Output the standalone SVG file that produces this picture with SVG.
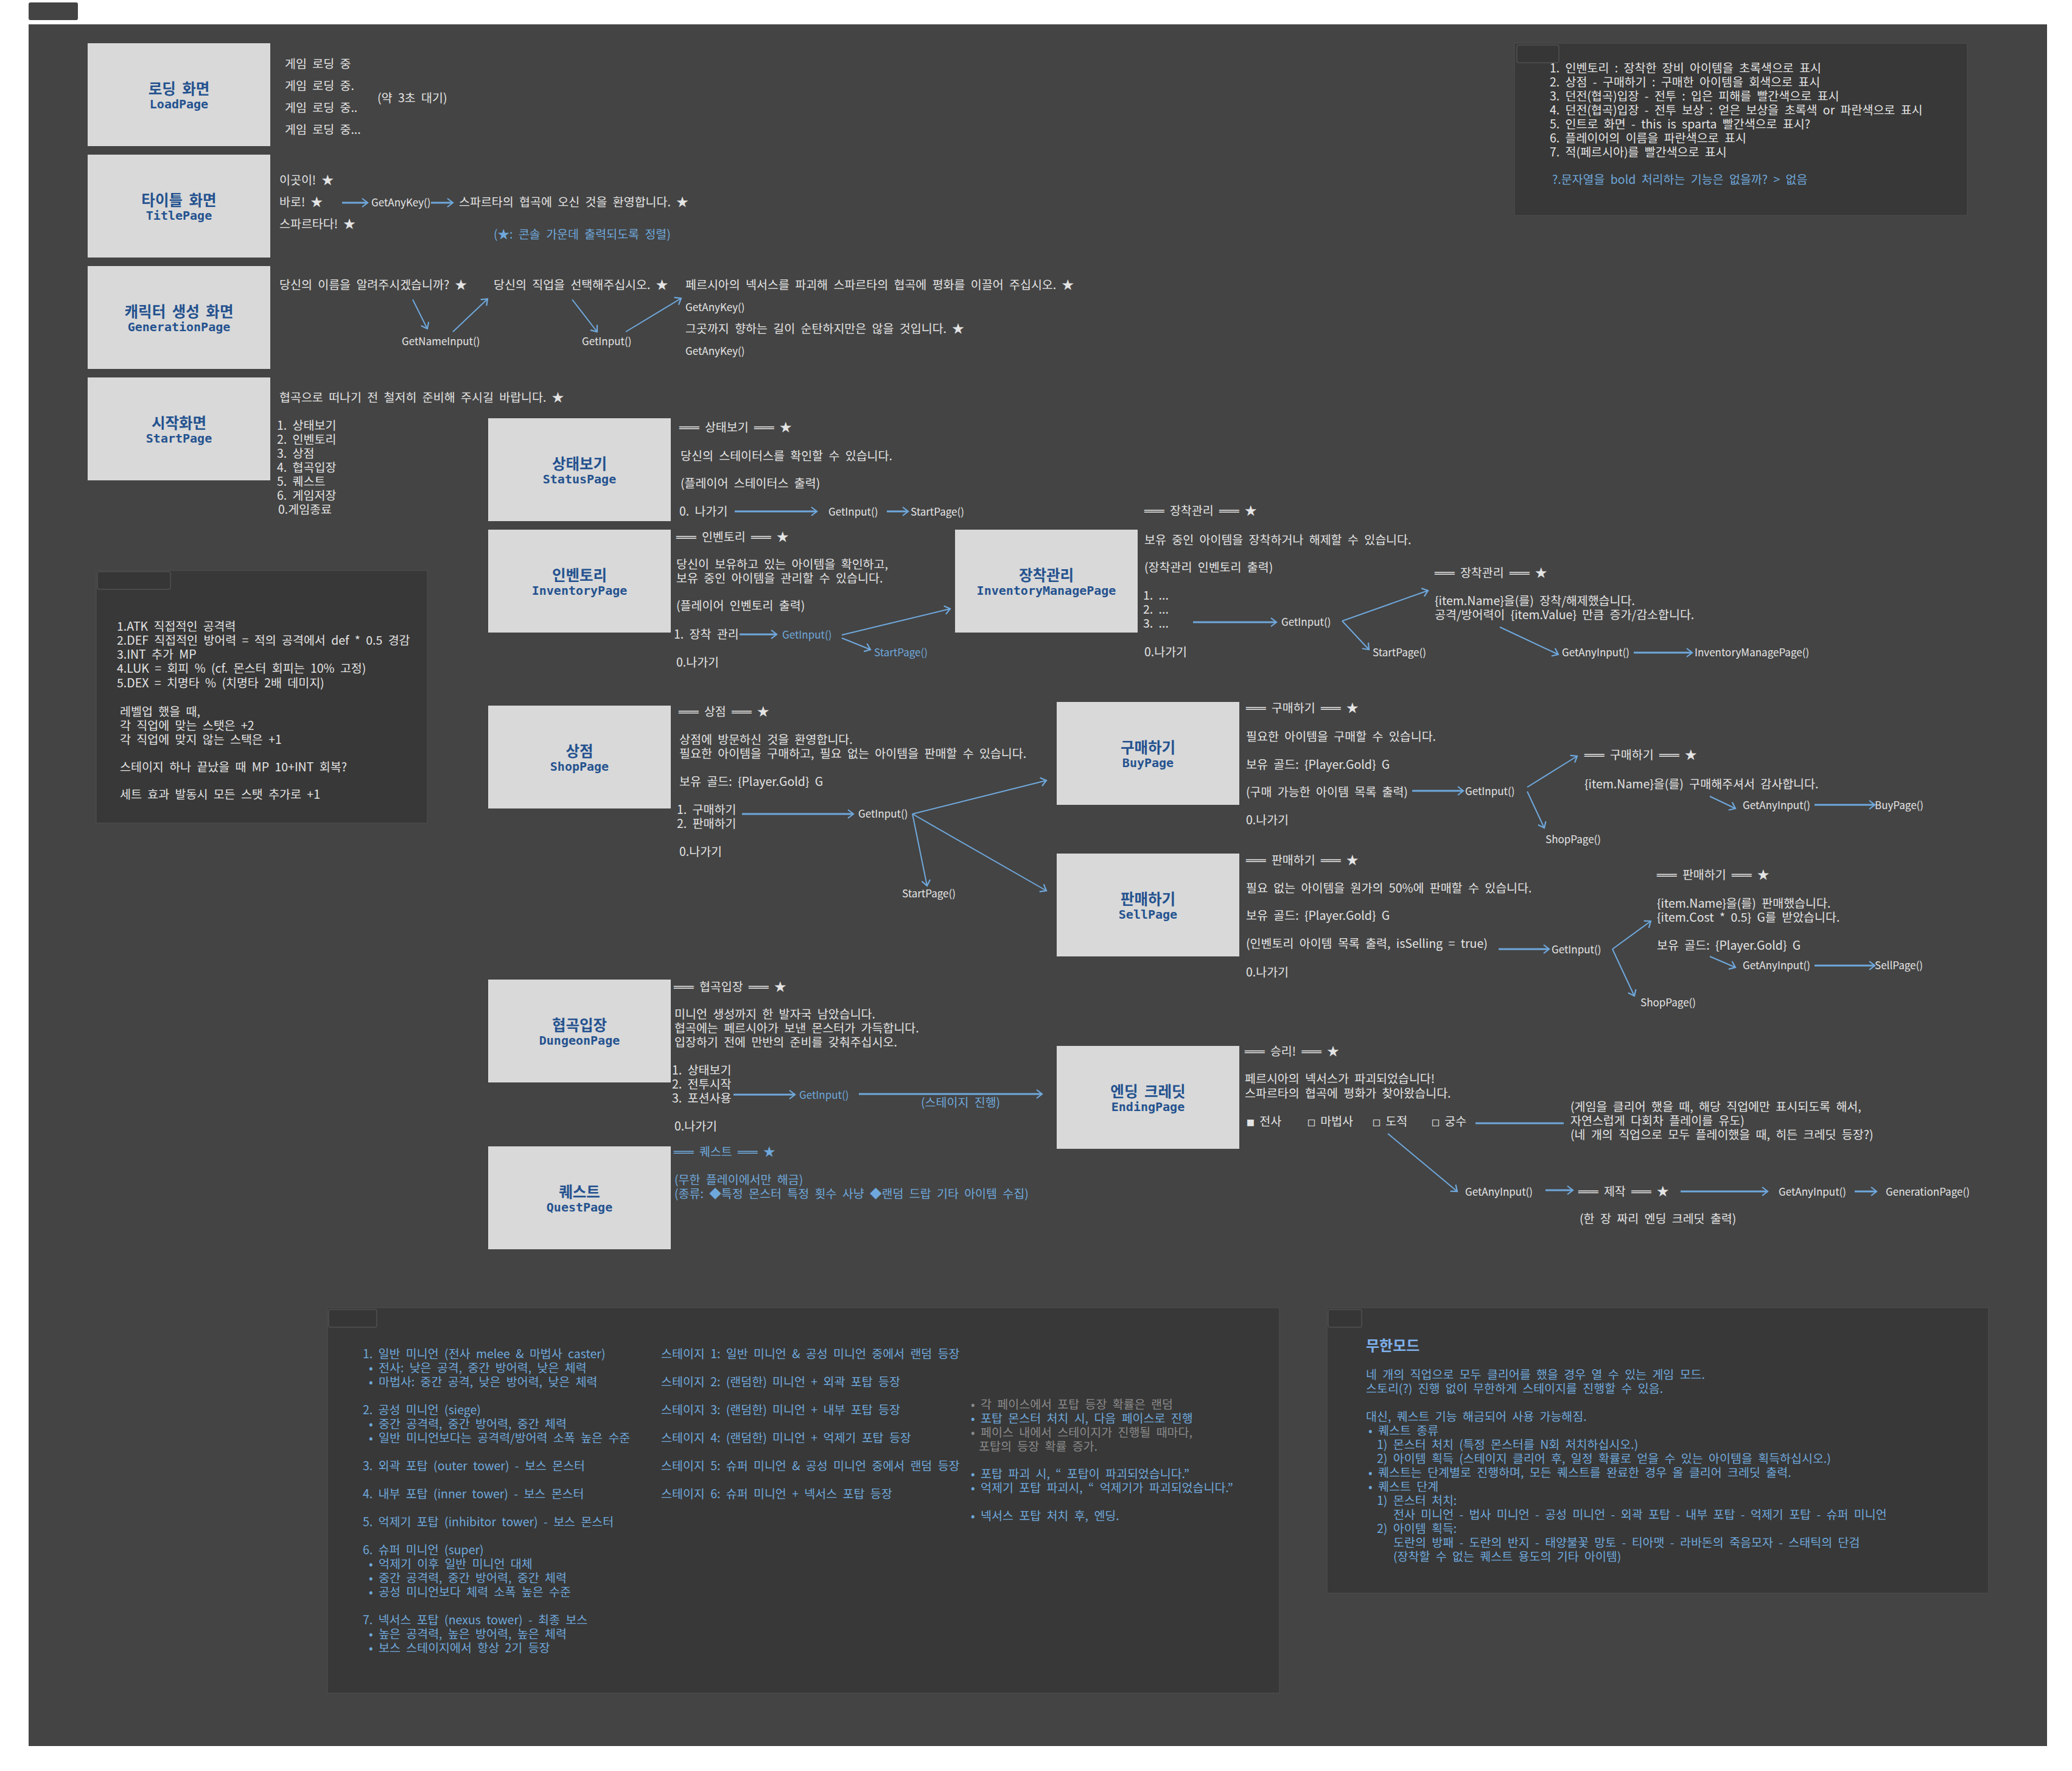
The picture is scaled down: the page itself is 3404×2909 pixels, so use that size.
<svg xmlns="http://www.w3.org/2000/svg" width="3404" height="2909" viewBox="0 0 3404 2909">
<defs>
<style>
.bg{fill:#444444}
.node{fill:#d9d9d9}
.note{fill:#383838;stroke:#4a4a4a;stroke-width:1.5}
.tab{fill:#363636;stroke:#505050;stroke-width:1.5}
.nt{font-family:"Noto Sans CJK KR","Noto Sans",sans-serif;font-weight:bold;font-size:24.5px;fill:#24528f;text-anchor:middle;word-spacing:5px}
.ne{font-family:"DejaVu Sans Mono","Liberation Mono",monospace;font-weight:bold;font-size:20px;fill:#24528f;text-anchor:middle}
text.t{font-family:"Liberation Sans Narrow","Noto Sans CJK KR","Noto Sans",sans-serif;font-size:19.5px;fill:#e4e4e4;word-spacing:5px}
text.c{font-size:17px}
text.b{fill:#6fa8dc}
text.g{fill:#8a8a8a}
.m{font-family:"DejaVu Sans Mono",monospace;font-size:18px}
.h{font-family:"Noto Sans CJK KR",sans-serif;font-weight:bold;font-size:24px;fill:#7fb0ea}
.a{stroke:#6fa8dc;stroke-width:3;fill:none;marker-end:url(#ah)}
.a2{stroke:#6fa8dc;stroke-width:2;fill:none;marker-end:url(#ah)}
.ln{stroke:#6fa8dc;stroke-width:3;fill:none}
</style>
<marker id="ah" viewBox="0 0 12 16" refX="10" refY="8" markerWidth="12" markerHeight="16" markerUnits="userSpaceOnUse" orient="auto">
<path d="M1,1 L10,8 L1,15" fill="none" stroke="#6fa8dc" stroke-width="2.2"/>
</marker>
</defs>

<rect x="0" y="0" width="3404" height="2909" fill="#ffffff"/>
<rect x="47" y="4" width="81" height="29" rx="3" class="bg"/>
<rect x="47" y="40" width="3316" height="2828" class="bg"/>

<!-- note boxes -->
<g id="note-colors">
<rect x="2488" y="71" width="744" height="283" class="note"/>
<rect x="2492" y="74" width="69" height="29" rx="3" class="tab"/>
<text class="t" x="2546" y="119">1. 인벤토리 : 장착한 장비 아이템을 초록색으로 표시</text>
<text class="t" x="2546" y="142">2. 상점 - 구매하기 : 구매한 아이템을 회색으로 표시</text>
<text class="t" x="2546" y="165">3. 던전(협곡)입장 - 전투 : 입은 피해를 빨간색으로 표시</text>
<text class="t" x="2546" y="188">4. 던전(협곡)입장 - 전투 보상 : 얻은 보상을 초록색 or 파란색으로 표시</text>
<text class="t" x="2546" y="211">5. 인트로 화면 - this is sparta 빨간색으로 표시?</text>
<text class="t" x="2546" y="234">6. 플레이어의 이름을 파란색으로 표시</text>
<text class="t" x="2546" y="257">7. 적(페르시아)를 빨간색으로 표시</text>
<text class="t b" x="2550" y="302">?.문자열을 bold 처리하는 기능은 없을까? &gt; 없음</text>
</g>

<g id="note-stats">
<rect x="158" y="937" width="544" height="415" class="note"/>
<rect x="160" y="939" width="120" height="29" rx="3" class="tab"/>
<text class="t" x="192" y="1036">1.ATK 직접적인 공격력</text>
<text class="t" x="192" y="1059">2.DEF 직접적인 방어력 = 적의 공격에서 def * 0.5 경감</text>
<text class="t" x="192" y="1082">3.INT 추가 MP</text>
<text class="t" x="192" y="1105">4.LUK = 회피 % (cf. 몬스터 회피는 10% 고정)</text>
<text class="t" x="192" y="1129">5.DEX = 치명타 % (치명타 2배 데미지)</text>
<text class="t" x="197" y="1176">레벨업 했을 때,</text>
<text class="t" x="197" y="1199">각 직업에 맞는 스탯은 +2</text>
<text class="t" x="197" y="1222">각 직업에 맞지 않는 스택은 +1</text>
<text class="t" x="197" y="1267">스테이지 하나 끝났을 때 MP 10+INT 회복?</text>
<text class="t" x="197" y="1312">세트 효과 발동시 모든 스탯 추가로 +1</text>
</g>

<g id="note-minions">
<rect x="538" y="2148" width="1564" height="633" class="note"/>
<rect x="540" y="2151" width="79" height="29" rx="3" class="tab"/>
<text class="t b" x="596" y="2231">1. 일반 미니언 (전사 melee &amp; 마법사 caster)</text>
<text class="t b" x="606" y="2254">• 전사: 낮은 공격, 중간 방어력, 낮은 체력</text>
<text class="t b" x="606" y="2277">• 마법사: 중간 공격, 낮은 방어력, 낮은 체력</text>
<text class="t b" x="596" y="2323">2. 공성 미니언 (siege)</text>
<text class="t b" x="606" y="2346">• 중간 공격력, 중간 방어력, 중간 체력</text>
<text class="t b" x="606" y="2369">• 일반 미니언보다는 공격력/방어력 소폭 높은 수준</text>
<text class="t b" x="596" y="2415">3. 외곽 포탑 (outer tower) - 보스 몬스터</text>
<text class="t b" x="596" y="2461">4. 내부 포탑 (inner tower) - 보스 몬스터</text>
<text class="t b" x="596" y="2507">5. 억제기 포탑 (inhibitor tower) - 보스 몬스터</text>
<text class="t b" x="596" y="2553">6. 슈퍼 미니언 (super)</text>
<text class="t b" x="606" y="2576">• 억제기 이후 일반 미니언 대체</text>
<text class="t b" x="606" y="2599">• 중간 공격력, 중간 방어력, 중간 체력</text>
<text class="t b" x="606" y="2622">• 공성 미니언보다 체력 소폭 높은 수준</text>
<text class="t b" x="596" y="2668">7. 넥서스 포탑 (nexus tower) - 최종 보스</text>
<text class="t b" x="606" y="2691">• 높은 공격력, 높은 방어력, 높은 체력</text>
<text class="t b" x="606" y="2714">• 보스 스테이지에서 항상 2기 등장</text>
<text class="t b" x="1086" y="2231">스테이지 1: 일반 미니언 &amp; 공성 미니언 중에서 랜덤 등장</text>
<text class="t b" x="1086" y="2277">스테이지 2: (랜덤한) 미니언 + 외곽 포탑 등장</text>
<text class="t b" x="1086" y="2323">스테이지 3: (랜덤한) 미니언 + 내부 포탑 등장</text>
<text class="t b" x="1086" y="2369">스테이지 4: (랜덤한) 미니언 + 억제기 포탑 등장</text>
<text class="t b" x="1086" y="2415">스테이지 5: 슈퍼 미니언 &amp; 공성 미니언 중에서 랜덤 등장</text>
<text class="t b" x="1086" y="2461">스테이지 6: 슈퍼 미니언 + 넥서스 포탑 등장</text>
<text class="t g" x="1595" y="2314">• 각 페이스에서 포탑 등장 확률은 랜덤</text>
<text class="t b" x="1595" y="2337">• 포탑 몬스터 처치 시, 다음 페이스로 진행</text>
<text class="t g" x="1595" y="2360">• 페이스 내에서 스테이지가 진행될 때마다,</text>
<text class="t g" x="1608" y="2383">포탑의 등장 확률 증가.</text>
<text class="t b" x="1595" y="2428">• 포탑 파괴 시, “ 포탑이 파괴되었습니다.”</text>
<text class="t b" x="1595" y="2451">• 억제기 포탑 파괴시, “ 억제기가 파괴되었습니다.”</text>
<text class="t b" x="1595" y="2497">• 넥서스 포탑 처치 후, 엔딩.</text>
</g>

<g id="note-infinite">
<rect x="2180" y="2148" width="1087" height="469" class="note"/>
<rect x="2182" y="2151" width="55" height="29" rx="3" class="tab"/>
<text class="h" x="2244" y="2219">무한모드</text>
<text class="t b" x="2244" y="2265">네 개의 직업으로 모두 클리어를 했을 경우 열 수 있는 게임 모드.</text>
<text class="t b" x="2244" y="2288">스토리(?) 진행 없이 무한하게 스테이지를 진행할 수 있음.</text>
<text class="t b" x="2244" y="2334">대신, 퀘스트 기능 해금되어 사용 가능해짐.</text>
<text class="t b" x="2248" y="2357">• 퀘스트 종류</text>
<text class="t b" x="2262" y="2380">1) 몬스터 처치 (특정 몬스터를 N회 처치하십시오.)</text>
<text class="t b" x="2262" y="2403">2) 아이템 획득 (스테이지 클리어 후, 일정 확률로 얻을 수 있는 아이템을 획득하십시오.)</text>
<text class="t b" x="2248" y="2426">• 퀘스트는 단계별로 진행하며, 모든 퀘스트를 완료한 경우 올 클리어 크레딧 출력.</text>
<text class="t b" x="2248" y="2449">• 퀘스트 단계</text>
<text class="t b" x="2262" y="2472">1) 몬스터 처치:</text>
<text class="t b" x="2289" y="2495">전사 미니언 - 법사 미니언 - 공성 미니언 - 외곽 포탑 - 내부 포탑 - 억제기 포탑 - 슈퍼 미니언</text>
<text class="t b" x="2262" y="2518">2) 아이템 획득:</text>
<text class="t b" x="2289" y="2541">도란의 방패 - 도란의 반지 - 태양불꽃 망토 - 티아맷 - 라바돈의 죽음모자 - 스태틱의 단검</text>
<text class="t b" x="2289" y="2564">(장착할 수 없는 퀘스트 용도의 기타 아이템)</text>
</g>

<!-- nodes -->
<g id="load-page">
<rect x="144" y="71" width="300" height="169" class="node"/>
<text class="nt" x="294" y="155">로딩 화면</text>
<text class="ne" x="294" y="178">LoadPage</text>
<text class="t" x="468" y="112">게임 로딩 중</text>
<text class="t" x="468" y="148">게임 로딩 중.</text>
<text class="t" x="468" y="184">게임 로딩 중..</text>
<text class="t" x="468" y="220">게임 로딩 중...</text>
<text class="t" x="620" y="168">(약 3초 대기)</text>
</g>

<g id="title-page">
<rect x="144" y="254" width="300" height="169" class="node"/>
<text class="nt" x="294" y="338">타이틀 화면</text>
<text class="ne" x="294" y="361">TitlePage</text>
<text class="t" x="459" y="303">이곳이! ★</text>
<text class="t" x="459" y="339">바로! ★</text>
<text class="t c" x="610" y="339">GetAnyKey()</text>
<text class="t" x="754" y="339">스파르타의 협곡에 오신 것을 환영합니다. ★</text>
<text class="t" x="459" y="375">스파르타다! ★</text>
<text class="t b" x="811" y="392">(★: 콘솔 가운데 출력되도록 정렬)</text>
</g>

<g id="generation-page">
<rect x="144" y="437" width="300" height="169" class="node"/>
<text class="nt" x="294" y="521">캐릭터 생성 화면</text>
<text class="ne" x="294" y="544">GenerationPage</text>
<text class="t" x="459" y="475">당신의 이름을 알려주시겠습니까? ★</text>
<text class="t" x="811" y="475">당신의 직업을 선택해주십시오. ★</text>
<text class="t" x="1126" y="475">페르시아의 넥서스를 파괴해 스파르타의 협곡에 평화를 이끌어 주십시오. ★</text>
<text class="t c" x="660" y="567">GetNameInput()</text>
<text class="t c" x="956" y="567">GetInput()</text>
<text class="t c" x="1126" y="511">GetAnyKey()</text>
<text class="t" x="1126" y="547">그곳까지 향하는 길이 순탄하지만은 않을 것입니다. ★</text>
<text class="t c" x="1126" y="583">GetAnyKey()</text>
</g>

<g id="start-page">
<rect x="144" y="620" width="300" height="169" class="node"/>
<text class="nt" x="294" y="704">시작화면</text>
<text class="ne" x="294" y="727">StartPage</text>
<text class="t" x="459" y="660">협곡으로 떠나기 전 철저히 준비해 주시길 바랍니다. ★</text>
<text class="t" x="455" y="706">1. 상태보기</text>
<text class="t" x="455" y="729">2. 인벤토리</text>
<text class="t" x="455" y="752">3. 상점</text>
<text class="t" x="455" y="775">4. 협곡입장</text>
<text class="t" x="455" y="798">5. 퀘스트</text>
<text class="t" x="455" y="821">6. 게임저장</text>
<text class="t" x="457" y="844">0.게임종료</text>
</g>

<g id="status-page">
<rect x="802" y="687" width="300" height="169" class="node"/>
<text class="nt" x="952" y="771">상태보기</text>
<text class="ne" x="952" y="794">StatusPage</text>
<text class="t" x="1116" y="709"><tspan class="m">═══</tspan> 상태보기 <tspan class="m">═══</tspan> ★</text>
<text class="t" x="1118" y="756">당신의 스테이터스를 확인할 수 있습니다.</text>
<text class="t" x="1118" y="801">(플레이어 스테이터스 출력)</text>
<text class="t" x="1116" y="847">0. 나가기</text>
<text class="t c" x="1361" y="847">GetInput()</text>
<text class="t c" x="1496" y="847">StartPage()</text>
</g>

<g id="inventory-page">
<rect x="802" y="870" width="300" height="169" class="node"/>
<text class="nt" x="952" y="954">인벤토리</text>
<text class="ne" x="952" y="977">InventoryPage</text>
<text class="t" x="1111" y="889"><tspan class="m">═══</tspan> 인벤토리 <tspan class="m">═══</tspan> ★</text>
<text class="t" x="1111" y="934">당신이 보유하고 있는 아이템을 확인하고,</text>
<text class="t" x="1111" y="957">보유 중인 아이템을 관리할 수 있습니다.</text>
<text class="t" x="1111" y="1002">(플레이어 인벤토리 출력)</text>
<text class="t" x="1107" y="1049">1. 장착 관리</text>
<text class="t b c" x="1285" y="1049">GetInput()</text>
<text class="t b c" x="1436" y="1078">StartPage()</text>
<text class="t" x="1111" y="1095">0.나가기</text>
</g>

<g id="inventory-manage-page">
<rect x="1569" y="870" width="300" height="169" class="node"/>
<text class="nt" x="1719" y="954">장착관리</text>
<text class="ne" x="1719" y="977">InventoryManagePage</text>
<text class="t" x="1880" y="846"><tspan class="m">═══</tspan> 장착관리 <tspan class="m">═══</tspan> ★</text>
<text class="t" x="1880" y="894">보유 중인 아이템을 장착하거나 해제할 수 있습니다.</text>
<text class="t" x="1880" y="939">(장착관리 인벤토리 출력)</text>
<text class="t" x="1878" y="985">1. ...</text>
<text class="t" x="1878" y="1008">2. ...</text>
<text class="t" x="1878" y="1031">3. ...</text>
<text class="t" x="1880" y="1078">0.나가기</text>
<text class="t c" x="2105" y="1028">GetInput()</text>
<text class="t c" x="2255" y="1078">StartPage()</text>
<text class="t" x="2357" y="948"><tspan class="m">═══</tspan> 장착관리 <tspan class="m">═══</tspan> ★</text>
<text class="t" x="2357" y="994">{item.Name}을(를) 장착/해제했습니다.</text>
<text class="t" x="2357" y="1017">공격/방어력이 {item.Value} 만큼 증가/감소합니다.</text>
<text class="t c" x="2566" y="1078">GetAnyInput()</text>
<text class="t c" x="2784" y="1078">InventoryManagePage()</text>
</g>

<g id="shop-page">
<rect x="802" y="1159" width="300" height="169" class="node"/>
<text class="nt" x="952" y="1243">상점</text>
<text class="ne" x="952" y="1266">ShopPage</text>
<text class="t" x="1115" y="1176"><tspan class="m">═══</tspan> 상점 <tspan class="m">═══</tspan> ★</text>
<text class="t" x="1116" y="1222">상점에 방문하신 것을 환영합니다.</text>
<text class="t" x="1116" y="1245">필요한 아이템을 구매하고, 필요 없는 아이템을 판매할 수 있습니다.</text>
<text class="t" x="1116" y="1291">보유 골드: {Player.Gold} G</text>
<text class="t" x="1112" y="1337">1. 구매하기</text>
<text class="t" x="1112" y="1360">2. 판매하기</text>
<text class="t" x="1116" y="1406">0.나가기</text>
<text class="t c" x="1410" y="1343">GetInput()</text>
<text class="t c" x="1482" y="1474">StartPage()</text>
</g>

<g id="buy-page">
<rect x="1736" y="1153" width="300" height="169" class="node"/>
<text class="nt" x="1886" y="1237">구매하기</text>
<text class="ne" x="1886" y="1260">BuyPage</text>
<text class="t" x="2047" y="1170"><tspan class="m">═══</tspan> 구매하기 <tspan class="m">═══</tspan> ★</text>
<text class="t" x="2047" y="1217">필요한 아이템을 구매할 수 있습니다.</text>
<text class="t" x="2047" y="1263">보유 골드: {Player.Gold} G</text>
<text class="t" x="2047" y="1308">(구매 가능한 아이템 목록 출력)</text>
<text class="t c" x="2407" y="1306">GetInput()</text>
<text class="t" x="2047" y="1354">0.나가기</text>
<text class="t c" x="2539" y="1385">ShopPage()</text>
<text class="t" x="2603" y="1247"><tspan class="m">═══</tspan> 구매하기 <tspan class="m">═══</tspan> ★</text>
<text class="t" x="2603" y="1295">{item.Name}을(를) 구매해주셔서 감사합니다.</text>
<text class="t c" x="2863" y="1329">GetAnyInput()</text>
<text class="t c" x="3080" y="1329">BuyPage()</text>
</g>

<g id="sell-page">
<rect x="1736" y="1402" width="300" height="169" class="node"/>
<text class="nt" x="1886" y="1486">판매하기</text>
<text class="ne" x="1886" y="1509">SellPage</text>
<text class="t" x="2047" y="1420"><tspan class="m">═══</tspan> 판매하기 <tspan class="m">═══</tspan> ★</text>
<text class="t" x="2047" y="1466">필요 없는 아이템을 원가의 50%에 판매할 수 있습니다.</text>
<text class="t" x="2047" y="1511">보유 골드: {Player.Gold} G</text>
<text class="t" x="2047" y="1557">(인벤토리 아이템 목록 출력, isSelling = true)</text>
<text class="t c" x="2549" y="1566">GetInput()</text>
<text class="t" x="2047" y="1604">0.나가기</text>
<text class="t c" x="2695" y="1653">ShopPage()</text>
<text class="t" x="2722" y="1444"><tspan class="m">═══</tspan> 판매하기 <tspan class="m">═══</tspan> ★</text>
<text class="t" x="2722" y="1491">{item.Name}을(를) 판매했습니다.</text>
<text class="t" x="2722" y="1514">{item.Cost * 0.5} G를 받았습니다.</text>
<text class="t" x="2722" y="1560">보유 골드: {Player.Gold} G</text>
<text class="t c" x="2863" y="1592">GetAnyInput()</text>
<text class="t c" x="3080" y="1592">SellPage()</text>
</g>

<g id="dungeon-page">
<rect x="802" y="1609" width="300" height="169" class="node"/>
<text class="nt" x="952" y="1693">협곡입장</text>
<text class="ne" x="952" y="1716">DungeonPage</text>
<text class="t" x="1107" y="1628"><tspan class="m">═══</tspan> 협곡입장 <tspan class="m">═══</tspan> ★</text>
<text class="t" x="1108" y="1673">미니언 생성까지 한 발자국 남았습니다.</text>
<text class="t" x="1108" y="1696">협곡에는 페르시아가 보낸 몬스터가 가득합니다.</text>
<text class="t" x="1108" y="1719">입장하기 전에 만반의 준비를 갖춰주십시오.</text>
<text class="t" x="1104" y="1765">1. 상태보기</text>
<text class="t" x="1104" y="1788">2. 전투시작</text>
<text class="t" x="1104" y="1811">3. 포션사용</text>
<text class="t b c" x="1313" y="1805">GetInput()</text>
<text class="t b" x="1513" y="1818">(스테이지 진행)</text>
<text class="t" x="1108" y="1857">0.나가기</text>
</g>

<g id="quest-page">
<rect x="802" y="1883" width="300" height="169" class="node"/>
<text class="nt" x="952" y="1967">퀘스트</text>
<text class="ne" x="952" y="1990">QuestPage</text>
<text class="t b" x="1107" y="1899"><tspan class="m">═══</tspan> 퀘스트 <tspan class="m">═══</tspan> ★</text>
<text class="t b" x="1108" y="1945">(무한 플레이에서만 해금)</text>
<text class="t b" x="1108" y="1968">(종류: ◆특정 몬스터 특정 횟수 사냥 ◆랜덤 드랍 기타 아이템 수집)</text>
</g>

<g id="ending-page">
<rect x="1736" y="1718" width="300" height="169" class="node"/>
<text class="nt" x="1886" y="1802">엔딩 크레딧</text>
<text class="ne" x="1886" y="1825">EndingPage</text>
<text class="t" x="2045" y="1734"><tspan class="m">═══</tspan> 승리! <tspan class="m">═══</tspan> ★</text>
<text class="t" x="2045" y="1779">페르시아의 넥서스가 파괴되었습니다!</text>
<text class="t" x="2045" y="1803">스파르타의 협곡에 평화가 찾아왔습니다.</text>
<text class="t" x="2049" y="1849"><tspan class="m">■</tspan> 전사</text>
<text class="t" x="2149" y="1849"><tspan class="m">□</tspan> 마법사</text>
<text class="t" x="2256" y="1849"><tspan class="m">□</tspan> 도적</text>
<text class="t" x="2353" y="1849"><tspan class="m">□</tspan> 궁수</text>
<text class="t" x="2580" y="1825">(게임을 클리어 했을 때, 해당 직업에만 표시되도록 해서,</text>
<text class="t" x="2580" y="1848">자연스럽게 다회차 플레이를 유도)</text>
<text class="t" x="2580" y="1871">(네 개의 직업으로 모두 플레이했을 때, 히든 크레딧 등장?)</text>
<text class="t c" x="2407" y="1964">GetAnyInput()</text>
<text class="t" x="2593" y="1964"><tspan class="m">═══</tspan> 제작 <tspan class="m">═══</tspan> ★</text>
<text class="t c" x="2922" y="1964">GetAnyInput()</text>
<text class="t c" x="3098" y="1964">GenerationPage()</text>
<text class="t" x="2595" y="2009">(한 장 짜리 엔딩 크레딧 출력)</text>
</g>

<!-- connectors -->
<g id="connectors">
<line class="a" x1="562" y1="333" x2="604" y2="333"/>
<line class="a" x1="708" y1="333" x2="744" y2="333"/>
<line class="a2" x1="678" y1="492" x2="702" y2="540"/>
<line class="a2" x1="744" y1="545" x2="801" y2="491"/>
<line class="a2" x1="940" y1="492" x2="981" y2="545"/>
<line class="a2" x1="1028" y1="545" x2="1119" y2="490"/>
<line class="a" x1="1207" y1="840" x2="1342" y2="840"/>
<line class="a" x1="1457" y1="840" x2="1492" y2="840"/>
<line class="a" x1="1215" y1="1042" x2="1276" y2="1042"/>
<line class="a2" x1="1383" y1="1043" x2="1561" y2="1000"/>
<line class="a2" x1="1383" y1="1048" x2="1430" y2="1067"/>
<line class="a" x1="1960" y1="1022" x2="2097" y2="1022"/>
<line class="a2" x1="2205" y1="1020" x2="2346" y2="970"/>
<line class="a2" x1="2205" y1="1020" x2="2249" y2="1067"/>
<line class="a2" x1="2464" y1="1030" x2="2560" y2="1075"/>
<line class="a" x1="2684" y1="1072" x2="2780" y2="1072"/>
<line class="a" x1="1219" y1="1337" x2="1402" y2="1337"/>
<line class="a2" x1="1499" y1="1337" x2="1719" y2="1282"/>
<line class="a2" x1="1499" y1="1337" x2="1523" y2="1455"/>
<line class="a2" x1="1499" y1="1337" x2="1719" y2="1463"/>
<line class="a" x1="2320" y1="1299" x2="2404" y2="1299"/>
<line class="a2" x1="2509" y1="1293" x2="2591" y2="1242"/>
<line class="a2" x1="2509" y1="1300" x2="2537" y2="1360"/>
<line class="a2" x1="2809" y1="1308" x2="2851" y2="1328"/>
<line class="a" x1="2981" y1="1322" x2="3080" y2="1322"/>
<line class="a" x1="2462" y1="1559" x2="2545" y2="1559"/>
<line class="a2" x1="2649" y1="1559" x2="2712" y2="1513"/>
<line class="a2" x1="2649" y1="1559" x2="2685" y2="1636"/>
<line class="a2" x1="2809" y1="1571" x2="2851" y2="1589"/>
<line class="a" x1="2981" y1="1586" x2="3080" y2="1586"/>
<line class="a" x1="1205" y1="1798" x2="1306" y2="1798"/>
<line class="a" x1="1411" y1="1797" x2="1712" y2="1797"/>
<line class="ln" x1="2424" y1="1845" x2="2569" y2="1845"/>
<line class="a2" x1="2280" y1="1862" x2="2394" y2="1957"/>
<line class="a" x1="2539" y1="1955" x2="2584" y2="1955"/>
<line class="a" x1="2761" y1="1957" x2="2904" y2="1957"/>
<line class="a" x1="3047" y1="1957" x2="3083" y2="1957"/>
</g>
</svg>
